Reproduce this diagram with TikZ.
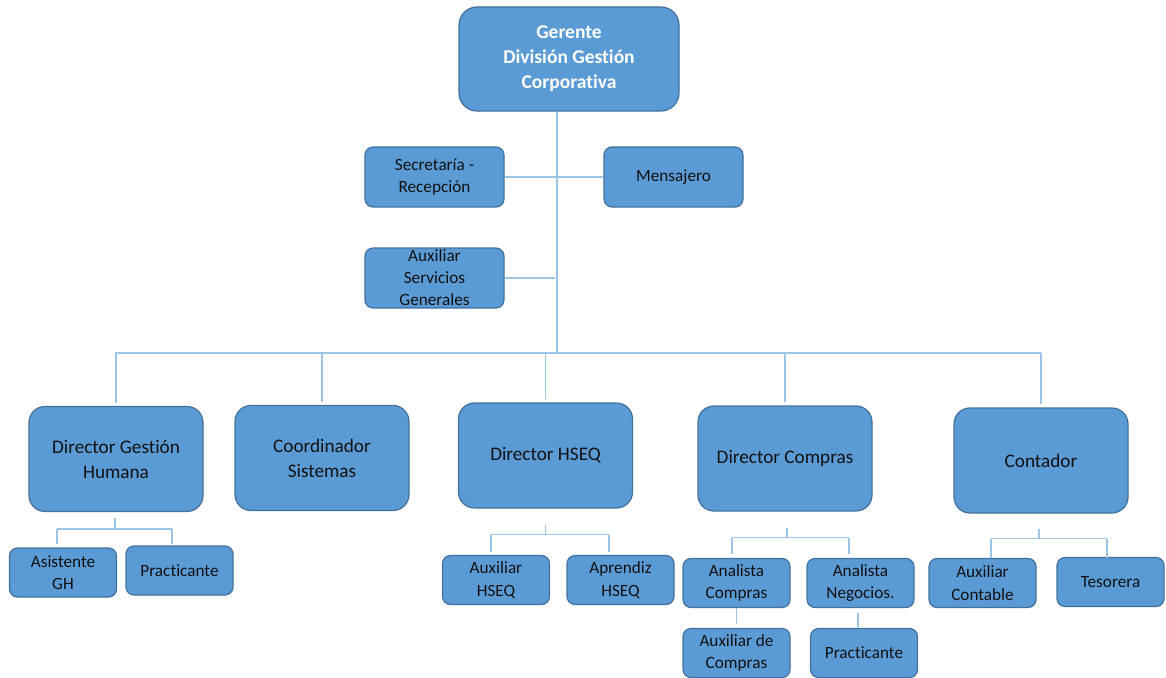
\documentclass[tikz,border=0pt]{standalone}
\usepackage{fontspec}
\setmainfont[Ligatures=NoCommon]{Carlito}
\usetikzlibrary{calc}
\definecolor{boxfill}{HTML}{5B9BD5}
\definecolor{boxline}{HTML}{41719C}
\definecolor{linkcol}{HTML}{9DC3E6}
\definecolor{ink}{HTML}{111111}
\begin{document}
\begin{tikzpicture}[x=1pt,y=-1pt,
  orgbox/.style={draw=boxline, fill=boxfill, line width=1.2pt, align=center, inner sep=0pt, text=ink},
  topbox/.style={orgbox, rounded corners=18pt, minimum width=220pt, minimum height=104pt, text=white, font=\fontsize{19.5}{25}\selectfont\bfseries},
  bigbox/.style={orgbox, rounded corners=16pt, minimum width=174pt, minimum height=105pt, font=\fontsize{19.2}{25}\selectfont},
  midbox/.style={orgbox, rounded corners=8pt, minimum width=139pt, minimum height=60pt, font=\fontsize{17.2}{22}\selectfont},
  smallbox/.style={orgbox, rounded corners=8pt, minimum width=107pt, minimum height=49pt, font=\fontsize{17.2}{22.5}\selectfont},
  link/.style={draw=linkcol, line width=1.3pt}]
\useasboundingbox (0,0) rectangle (1166,677);

% management level
\node[topbox] (ger) at (569,59) {Gerente\\División Gestión\\Corporativa};
\node[midbox] (sec) at (434.5,177) {Secretaría -\\Recepción};
\node[midbox] (men) at (673.5,177) {Mensajero};
\node[midbox] (aux) at (434.5,278) {Auxiliar\\Servicios\\Generales};

% directors
\node[bigbox] (dgh) at (116,459) {Director Gestión\\Humana};
\node[bigbox] (sis) at (322,458) {Coordinador\\Sistemas};
\node[bigbox] (hseq) at (545.5,455.5) {Director HSEQ};
\node[bigbox] (dcom) at (785,458.5) {Director Compras};
\node[bigbox] (cont) at (1041,460.5) {Contador};

% staff
\node[smallbox] (asis) at (63,572.5) {Asistente\\GH};
\node[smallbox] (prac1) at (179.5,570.5) {Practicante};
\node[smallbox] (auxh) at (496,580) {Auxiliar\\HSEQ};
\node[smallbox] (apr) at (620.5,580) {Aprendiz\\HSEQ};
\node[smallbox] (anc) at (736.5,583) {Analista\\Compras};
\node[smallbox] (ann) at (860.5,583) {Analista\\Negocios.};
\node[smallbox] (auxc) at (736.5,653) {Auxiliar de\\Compras};
\node[smallbox] (prac2) at (864,653) {Practicante};
\node[smallbox] (auxcon) at (982.5,583) {Auxiliar\\Contable};
\node[smallbox] (tes) at (1110.5,582) {Tesorera};

% trunk and bus
\coordinate (bus) at (557,353);
\draw[link] (bus |- ger.south) -- (bus);
\draw[link] (sec.east) -- (men.west);
\draw[link] (aux.east) -- (555,278);
\draw[link] ([xshift=-1pt]dgh.north |- bus) -- (cont.north |- bus);
\foreach \n in {dgh,sis,hseq,dcom,cont}
  \draw[link] (\n.north |- bus) -- ($(\n.north)+(0,-3)$);

% sub-branches
\draw[link] ($(dgh.south)+(-1,6)$) -- ++(0,11) coordinate (b1);
\coordinate (b1l) at ([xshift=-6pt]asis.north |- b1);
\coordinate (b1r) at ([xshift=-7.5pt]prac1.north |- b1);
\draw[link] (b1l) -- (b1r);
\draw[link] (b1l) -- ++(0,15);
\draw[link] (b1r) -- ++(0,15);

\draw[link] ($(hseq.south)+(0,16)$) -- ++(0,10) coordinate (b2);
\coordinate (b2l) at ([xshift=-5pt]auxh.north |- b2);
\coordinate (b2r) at ([xshift=-11.5pt]apr.north |- b2);
\draw[link] (b2l) -- (b2r);
\draw[link] (b2l) -- ++(0,17);
\draw[link] (b2r) -- ++(0,17);

\draw[link] ($(dcom.south)+(2,16)$) -- ++(0,10) coordinate (b3);
\coordinate (b3l) at ([xshift=-4.5pt]anc.north |- b3);
\coordinate (b3r) at ([xshift=-11.5pt]ann.north |- b3);
\draw[link] (b3l) -- (b3r);
\draw[link] (b3l) -- ++(0,16);
\draw[link] (b3r) -- ++(0,16);
\draw[link] (anc.south) -- ($(auxc.north)+(0,-4)$);
\draw[link] ($(ann.south)+(-2.5,5)$) -- ($(prac2.north)+(-6,-1)$);

\draw[link] ($(cont.south)+(-2,15)$) -- ++(0,10) coordinate (b4);
\coordinate (b4l) at ([xshift=8.5pt]auxcon.north |- b4);
\coordinate (b4r) at ([xshift=-3.5pt]tes.north |- b4);
\draw[link] (b4l) -- (b4r);
\draw[link] (b4l) -- ++(0,19);
\draw[link] (b4r) -- ++(0,19);
\end{tikzpicture}
\end{document}
